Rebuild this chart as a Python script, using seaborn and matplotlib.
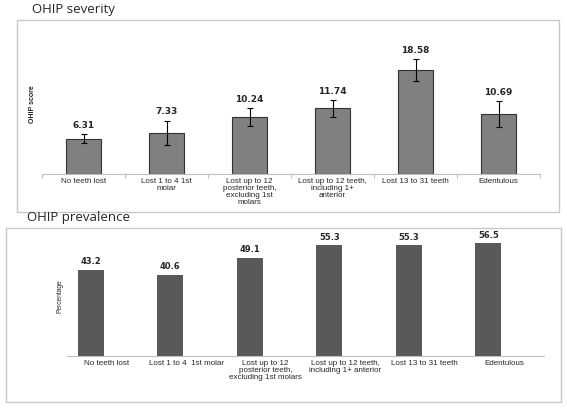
import numpy as np
import pandas as pd
import matplotlib
matplotlib.use("Agg")
import matplotlib.pyplot as plt
from matplotlib.patches import Rectangle
import seaborn as sns

# data
sev_labels = ["No teeth lost", "Lost 1 to 4 1st\nmolar",
              "Lost up to 12\nposterior teeth,\nexcluding 1st\nmolars",
              "Lost up to 12 teeth,\nincluding 1+\nanterior",
              "Lost 13 to 31 teeth", "Edentulous"]
sev_values = [6.31, 7.33, 10.24, 11.74, 18.58, 10.69]
sev_errors = [0.8, 2.2, 1.6, 1.5, 2.0, 2.3]

prev_labels = ["No teeth lost", "Lost 1 to 4  1st molar",
               "Lost up to 12\nposterior teeth,\nexcluding 1st molars",
               "Lost up to 12 teeth,\nincluding 1+ anterior",
               "Lost 13 to 31 teeth", "Edentulous"]
prev_values = [43.2, 40.6, 49.1, 55.3, 55.3, 56.5]

sns.set_style("white")
plt.rcParams['font.family'] = ['Liberation Sans', 'DejaVu Sans']

fig = plt.figure(figsize=(5.67, 4.08), dpi=100)
W, H = 567, 408

def px(x0, y0, x1, y1):
    # pixel box -> figure fraction [left, bottom, width, height]
    return [x0 / W, 1 - y1 / H, (x1 - x0) / W, (y1 - y0) / H]

# grey frames around each panel
for box in (px(17, 20, 559, 212), px(6, 228, 561, 402)):
    fig.patches.append(Rectangle((box[0], box[1]), box[2], box[3], transform=fig.transFigure,
                                 fill=False, edgecolor="#c8c8c8", linewidth=1))

fig.text(32 / W, 1 - 9 / H, "OHIP severity", fontsize=9.5, family="Open Sans", va="center")
fig.text(27 / W, 1 - 217 / H, "OHIP prevalence", fontsize=9.5, family="Open Sans", va="center")

# ---- top panel: severity
ax1 = fig.add_axes(px(42, 34, 540, 174))
pos1 = np.arange(len(sev_values))
df1 = pd.DataFrame({"pos": pos1, "score": sev_values})
sns.barplot(data=df1, x="pos", y="score", native_scale=True, width=0.41,
            color="#808080", edgecolor="#333333", linewidth=0.8, saturation=1, ax=ax1)
ax1.errorbar(pos1, sev_values, yerr=sev_errors, fmt="none", ecolor="black",
             elinewidth=0.8, capsize=2.5, capthick=0.8)
for x, v, e in zip(pos1, sev_values, sev_errors):
    ax1.annotate(f"{v:.2f}", (x, v + e), xytext=(0, 3), textcoords="offset points",
                 ha="center", va="bottom", fontsize=6.5, fontweight="bold", family="DejaVu Sans")
ax1.set_xlim(-0.5, 5.5)
ax1.set_ylim(0, 25)
ax1.set_xticks(pos1)
ax1.set_xticklabels(sev_labels, fontsize=5.8, linespacing=1.0)
ax1.set_xticks(np.arange(-0.5, 6, 1), minor=True)
ax1.tick_params(axis="x", which="major", length=0, pad=3)
ax1.tick_params(axis="x", which="minor", bottom=True, length=3, color="#bfbfbf",
                width=0.8, direction="out")
ax1.set_yticks([])
ax1.set_xlabel("")
ax1.set_ylabel("OHIP score", fontsize=5, fontweight="bold")
ax1.yaxis.set_label_coords(-0.012, 0.5)
for s in ("top", "right", "left"):
    ax1.spines[s].set_visible(False)
ax1.spines["bottom"].set_color("#bfbfbf")
ax1.spines["bottom"].set_linewidth(0.8)
ax1.patch.set_alpha(0)

# ---- bottom panel: prevalence (bars sit a little left of their labels)
ax2 = fig.add_axes(px(67, 236, 544, 356))
pos2 = np.arange(len(prev_values))
df2 = pd.DataFrame({"pos": pos2 - 0.2, "pct": prev_values})
sns.barplot(data=df2, x="pos", y="pct", native_scale=True, width=0.33,
            color="#595959", saturation=1, linewidth=0, ax=ax2)
for x, v in zip(pos2 - 0.2, prev_values):
    ax2.annotate(f"{v:.1f}", (x, v), xytext=(0, 2.5), textcoords="offset points",
                 ha="center", va="bottom", fontsize=6, fontweight="bold", family="DejaVu Sans")
ax2.set_xlim(-0.5, 5.5)
ax2.set_ylim(0, 60)
ax2.set_xticks(pos2)
ax2.set_xticklabels(prev_labels, fontsize=5.8, linespacing=1.0)
ax2.tick_params(axis="x", length=0, pad=3)
ax2.set_yticks([])
ax2.set_xlabel("")
ax2.set_ylabel("Percentage", fontsize=4.8)
ax2.yaxis.set_label_coords(-0.008, 0.5)
for s in ("top", "right", "left"):
    ax2.spines[s].set_visible(False)
ax2.spines["bottom"].set_color("#bfbfbf")
ax2.spines["bottom"].set_linewidth(0.8)
ax2.patch.set_alpha(0)

fig.savefig("out.png", dpi=100)
